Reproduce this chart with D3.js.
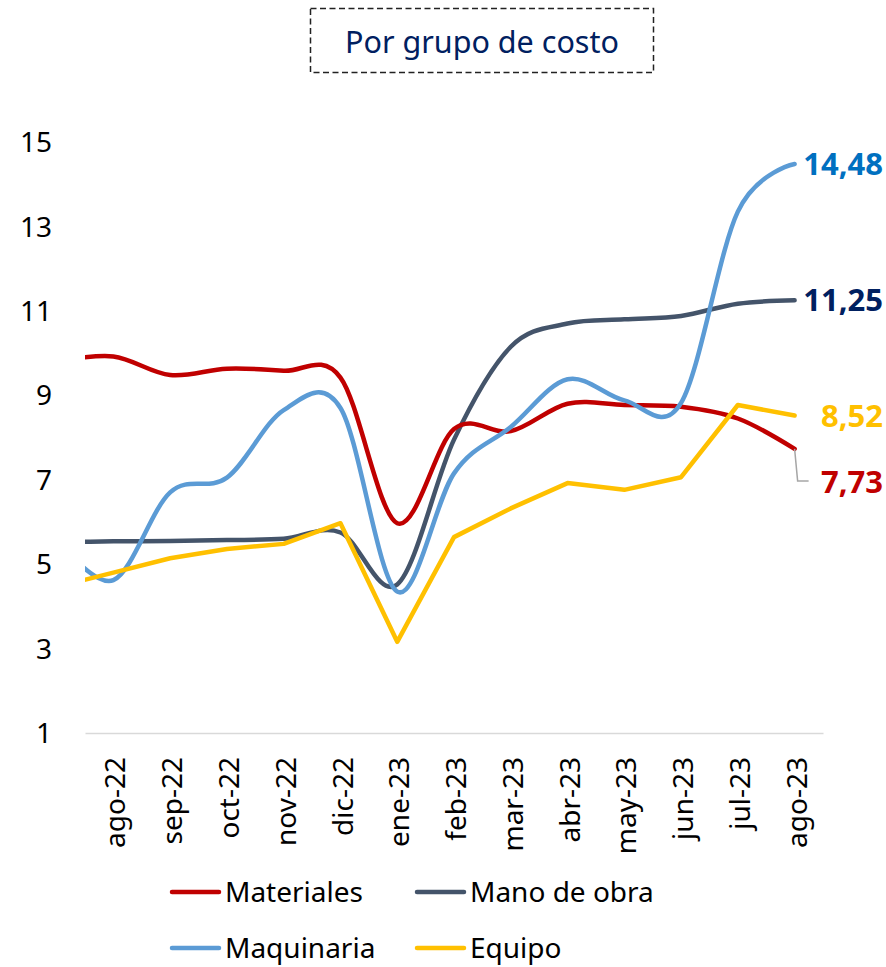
<!DOCTYPE html>
<html>
<head>
  <meta charset="utf-8"/>
  <title>Por grupo de costo</title>
  <style>
    body { margin: 0; background: #fff; }
    svg text { font-family: "Noto Sans", "Open Sans", sans-serif; }
  </style>
</head>
<body>
  <div id="chart"></div>

  <script src="https://cdn.jsdelivr.net/npm/d3@7"></script>
  <script>

  // months on the axis
  var months = ["ago-22","sep-22","oct-22","nov-22","dic-22","ene-23","feb-23",
                "mar-23","abr-23","may-23","jun-23","jul-23","ago-23"];
  // every series starts with jul-22, which sits left of the axis and gets clipped
  var materiales  = [9.80, 9.92, 9.48, 9.63, 9.58, 9.42, 5.97, 8.20, 8.15, 8.80, 8.77, 8.73, 8.45, 7.73];
  var manoDeObra  = [5.52, 5.54, 5.55, 5.57, 5.60, 5.75, 4.52, 7.95, 10.15, 10.70, 10.80, 10.88, 11.17, 11.25];
  var maquinaria  = [5.60, 4.62, 6.70, 7.05, 8.65, 8.70, 4.35, 7.15, 8.25, 9.38, 8.88, 8.82, 13.35, 14.48];
  var equipo      = [4.46, 4.80, 5.14, 5.36, 5.48, 5.97, 3.16, 5.64, 6.32, 6.92, 6.76, 7.06, 8.77, 8.52];
  var yTicks = [1, 3, 5, 7, 9, 11, 13, 15];

  var W = 886, H = 967;
  var mLeft = 85, mRight = 823, mTop = 142, mBottom = 733;

  var svg = d3.select("#chart").append("svg")
    .attr("width", W)
    .attr("height", H);

  // title box
  svg.append("rect")
    .attr("x", 310.5).attr("y", 8.5)
    .attr("width", 343).attr("height", 64)
    .attr("fill", "none")
    .attr("stroke", "#222")
    .attr("stroke-width", 1.5)
    .attr("stroke-dasharray", "6,3.5");
  svg.append("text")
    .attr("x", 482).attr("y", 53)
    .attr("text-anchor", "middle")
    .attr("font-size", 30.5)
    .attr("fill", "#002060")
    .text("Por grupo de costo");

  var y = d3.scaleLinear().domain([1, 15]).range([mBottom, mTop]);
  var xBand = d3.scaleBand().domain(months).range([mLeft, mRight]);
  // index 0 = jul-22, index 1 = ago-22 ...
  var xPos = d3.scaleLinear().domain([-0.5, 12.5]).range([mLeft, mRight]);
  function xi(i){ return xPos(i - 1); }

  // y labels
  svg.append("g").selectAll("text")
    .data(yTicks)
    .enter().append("text")
    .attr("x", 52)
    .attr("y", function(d){ return y(d); })
    .attr("dy", "0.36em")
    .attr("text-anchor", "end")
    .attr("font-size", 28)
    .attr("fill", "#000")
    .text(function(d){ return d; });

  // x axis
  var xAxis = svg.append("g")
    .attr("transform", "translate(0," + mBottom + ")")
    .call(d3.axisBottom(xBand).tickSize(0).tickPadding(0));
  xAxis.select(".domain").attr("stroke", "#d9d9d9").attr("stroke-width", 1.5);
  xAxis.selectAll("text")
    .attr("font-size", 28)
    .attr("font-family", "'Noto Sans', sans-serif")
    .attr("fill", "#000")
    .attr("text-anchor", "end")
    .attr("transform", "rotate(-90)")
    .attr("x", -24)
    .attr("y", 2)
    .attr("dy", "0.36em");

  svg.append("clipPath").attr("id", "plotClip")
    .append("rect")
    .attr("x", mLeft).attr("y", 0)
    .attr("width", mRight - mLeft).attr("height", H);

  var smooth = d3.line()
    .x(function(d, i){ return xi(i); })
    .y(function(d){ return y(d); })
    .curve(d3.curveCardinal.tension(0));
  var straight = d3.line()
    .x(function(d, i){ return xi(i); })
    .y(function(d){ return y(d); });

  var series = [
    {name: "Materiales",   values: materiales, color: "#C00000", gen: smooth},
    {name: "Mano de obra", values: manoDeObra, color: "#44546A", gen: smooth},
    {name: "Maquinaria",   values: maquinaria, color: "#5B9BD5", gen: smooth},
    {name: "Equipo",       values: equipo,     color: "#FFC000", gen: straight}
  ];

  var plot = svg.append("g").attr("clip-path", "url(#plotClip)");
  // draw order so Maquinaria and Equipo sit on top
  [series[1], series[0], series[2], series[3]].forEach(function(s){
    plot.append("path")
      .attr("d", s.gen(s.values))
      .attr("fill", "none")
      .attr("stroke", s.color)
      .attr("stroke-width", 4.5)
      .attr("stroke-linecap", "round")
      .attr("stroke-linejoin", "round");
  });

  // end labels
  var last = months.length;
  var endLabels = [
    {values: maquinaria, color: "#0070C0", dy: 0},
    {values: manoDeObra, color: "#002060", dy: 0},
    {values: equipo,     color: "#FFC000", dy: 0},
    {values: materiales, color: "#C00000", dy: 33}
  ];
  endLabels.forEach(function(l){
    var v = l.values[last];
    svg.append("text")
      .attr("x", 883)
      .attr("y", y(v) + l.dy)
      .attr("dy", "0.36em")
      .attr("text-anchor", "end")
      .attr("font-size", 31)
      .attr("font-weight", "bold")
      .attr("fill", l.color)
      .text(v.toFixed(2).replace(".", ","));
  });

  // leader line for 7,73
  var lx = xi(last), ly = y(materiales[last]);
  svg.append("path")
    .attr("d", "M" + lx + "," + ly + "L" + (lx + 3) + "," + (ly + 32) + "L" + (lx + 14) + "," + (ly + 32))
    .attr("fill", "none")
    .attr("stroke", "#a6a6a6")
    .attr("stroke-width", 1.5);

  // legend
  var legend = [
    {name: "Materiales",   color: "#C00000", x: 170, y: 892},
    {name: "Mano de obra", color: "#44546A", x: 415, y: 892},
    {name: "Maquinaria",   color: "#5B9BD5", x: 170, y: 948},
    {name: "Equipo",       color: "#FFC000", x: 415, y: 948}
  ];
  var lg = svg.append("g").selectAll("g")
    .data(legend)
    .enter().append("g")
    .attr("transform", function(d){ return "translate(" + d.x + "," + d.y + ")"; });
  lg.append("line")
    .attr("x1", 2).attr("x2", 49)
    .attr("stroke", function(d){ return d.color; })
    .attr("stroke-width", 4.5)
    .attr("stroke-linecap", "round");
  lg.append("text")
    .attr("x", 55)
    .attr("dy", "0.36em")
    .attr("font-size", 28)
    .attr("fill", "#000")
    .text(function(d){ return d.name; });

  </script>
</body>
</html>
